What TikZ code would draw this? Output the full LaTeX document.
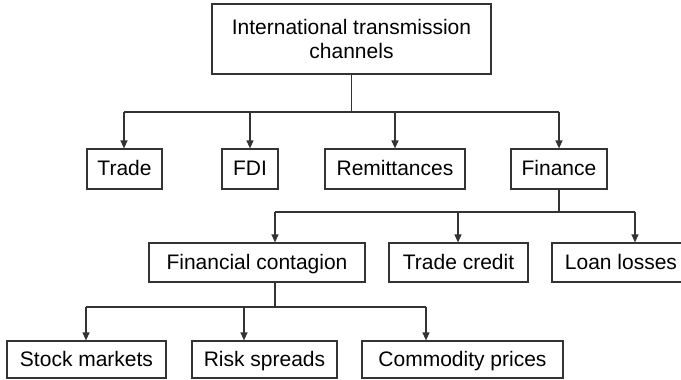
\documentclass[tikz,border=0pt]{standalone}
\usepackage{fontspec}
\setmainfont{Liberation Sans}
\usetikzlibrary{arrows.meta}
\begin{document}
\begin{tikzpicture}[x=0.5pt,y=-0.5pt,
  box/.style={draw=black!80, line width=0.6pt, rectangle, inner sep=0pt,
    font=\fontsize{10.5}{12}\selectfont, align=center},
  one/.style={box, text height=9pt, text depth=2.2pt},
  link/.style={draw=black!80, line width=0.6pt},
  arr/.style={link, -{Triangle[length=4pt,width=3.5pt]}}]
\useasboundingbox (0,0) rectangle (681,380);
\clip (0,0) rectangle (681,380);
% level 0
\node[box, minimum width=139.5pt, minimum height=35pt] (top) at (351.5,39) {International transmission\\channels};
% level 1
\node[one, minimum width=37.5pt, minimum height=20pt] (trade) at (124.5,169) {Trade};
\node[one, minimum width=28pt, minimum height=20pt] (fdi) at (250,169) {FDI};
\node[one, minimum width=70pt, minimum height=20pt] (remit) at (395,169) {Remittances};
\node[one, minimum width=48pt, minimum height=20pt] (finance) at (559,169) {Finance};
% level 2
\node[one, minimum width=108pt, minimum height=19.5pt] (fincont) at (257,262.5) {Financial contagion};
\node[one, minimum width=69.5pt, minimum height=19.5pt] (tcredit) at (458.5,262.5) {Trade credit};
\node[one, minimum width=69pt, minimum height=19.5pt] (loan) at (621,262.5) {Loan losses};
% level 3
\node[one, minimum width=79.5pt, minimum height=18.5pt] (stock) at (86.5,359.5) {Stock markets};
\node[one, minimum width=72.5pt, minimum height=18.5pt] (risk) at (264.5,359.5) {Risk spreads};
\node[one, minimum width=100.5pt, minimum height=18.5pt] (commod) at (462.5,359.5) {Commodity prices};
% bus coordinates
\coordinate (a1) at (124,112);
\coordinate (a2) at (250,112);
\coordinate (a3) at (395,112);
\coordinate (a4) at (559,112);
\coordinate (b1) at (275,212);
\coordinate (b2) at (458,212);
\coordinate (b3) at (635,212);
\coordinate (c1) at (86,307);
\coordinate (c2) at (244,307);
\coordinate (c3) at (426,307);
% connectors level 0 -> 1
\draw[link] (top.south) -- (top.south |- a1);
\draw[link] (a1) -- (a4);
\draw[arr] (a1) -- (a1 |- trade.north);
\draw[arr] (a2) -- (a2 |- fdi.north);
\draw[arr] (a3) -- (a3 |- remit.north);
\draw[arr] (a4) -- (a4 |- finance.north);
% connectors finance -> level 2
\draw[link] (finance.south) -- (finance.south |- b1);
\draw[link] (b1) -- (b3);
\draw[arr] (b1) -- (b1 |- fincont.north);
\draw[arr] (b2) -- (b2 |- tcredit.north);
\draw[arr] (b3) -- (b3 |- loan.north);
% connectors financial contagion -> level 3
\draw[link] (b1 |- fincont.south) -- (b1 |- c1);
\draw[link] (c1) -- (c3);
\draw[arr] (c1) -- (c1 |- stock.north);
\draw[arr] (c2) -- (c2 |- risk.north);
\draw[arr] (c3) -- (c3 |- commod.north);
\end{tikzpicture}
\end{document}
